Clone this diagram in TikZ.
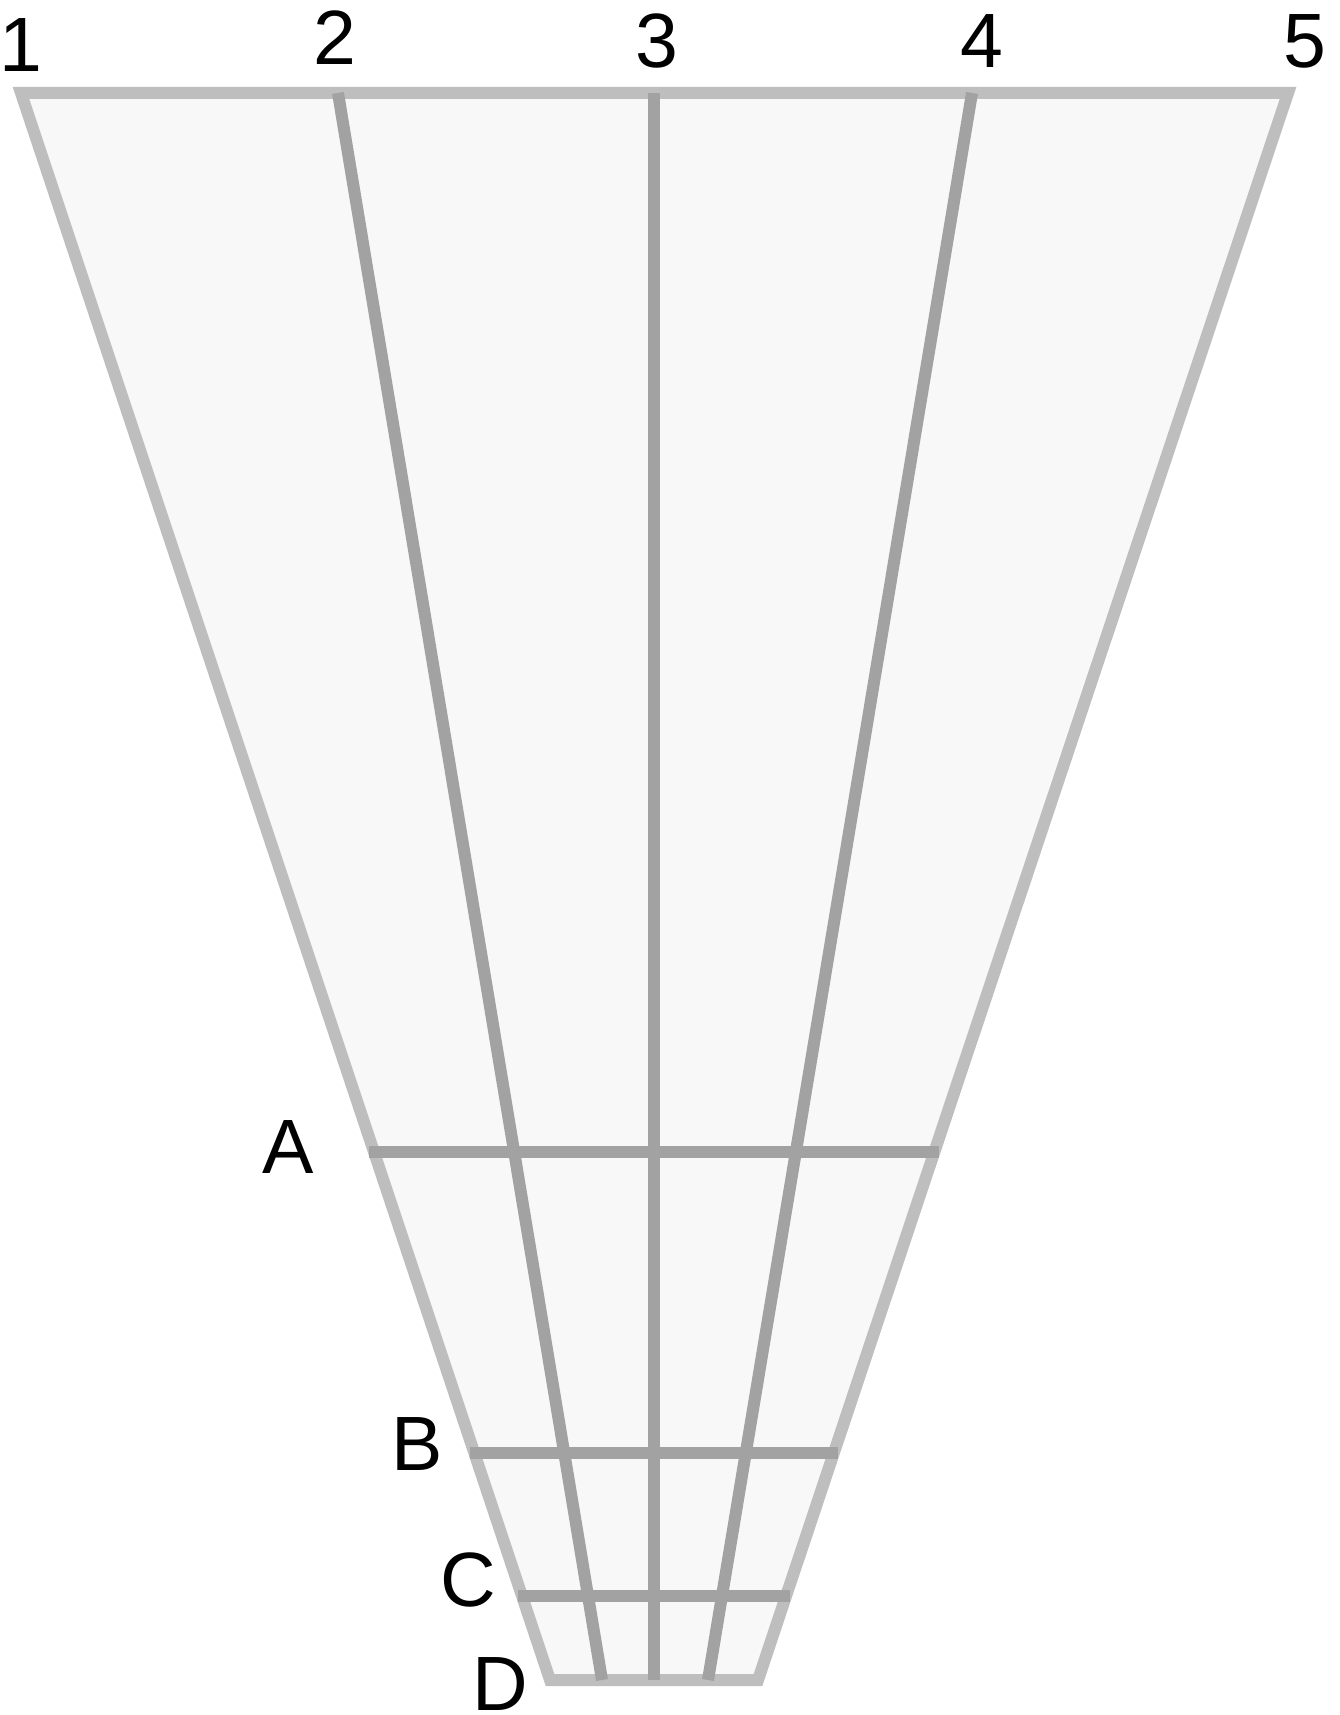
\documentclass[tikz,border=0pt]{standalone}
\usepackage{fontspec}
\setmainfont{Liberation Sans}
\usetikzlibrary{calc}
\definecolor{rimgray}{HTML}{BEBEBE}
\definecolor{ribgray}{HTML}{A2A2A2}
\definecolor{fillgray}{HTML}{F8F8F8}
\tikzset{
  rim/.style={draw=rimgray, line width=12pt, line join=miter},
  rib/.style={draw=ribgray, line width=12pt},
  lab/.style={anchor=base, inner sep=0pt, font=\fontsize{77}{77}\selectfont}
}
\begin{document}
\begin{tikzpicture}[x=1pt,y=-1pt]
\useasboundingbox (0,0) rectangle (1339,1715);
\coordinate (TL) at (21,93);
\coordinate (TR) at (1288,93);
\coordinate (BR) at (758,1680);
\coordinate (BL) at (550,1680);
\coordinate (T2) at (338,93);
\coordinate (B2) at (602,1680);
\coordinate (T3) at (654,93);
\coordinate (B3) at (654,1680);
\coordinate (T4) at (972,93);
\coordinate (B4) at (708,1680);
\coordinate (AL) at ($(TL)!0.6673!(BL)+(-5,0)$);
\coordinate (AR) at ($(TR)!0.6673!(BR)+(5,0)$);
\coordinate (BBL) at ($(TL)!0.857!(BL)+(-4,0)$);
\coordinate (BBR) at ($(TR)!0.857!(BR)+(4,0)$);
\coordinate (CL) at ($(TL)!0.947!(BL)+(-4,0)$);
\coordinate (CR) at ($(TR)!0.947!(BR)+(4,0)$);
\path[rim, fill=fillgray] (TL) -- (TR) -- (BR) -- (BL) -- cycle;
\draw[rib] (T2) -- (B2);
\draw[rib] (T3) -- (B3);
\draw[rib] (T4) -- (B4);
\draw[rib] (AL) -- (AR);
\draw[rib] (BBL) -- (BBR);
\draw[rib] (CL) -- (CR);
\node[lab] (n1) at (21,72) {1};
\node[lab] (n2) at (335,65) {2};
\node[lab] (n3) at (657,68) {3};
\node[lab] (n4) at (982,68) {4};
\node[lab] (n5) at (1305,68) {5};
\node[lab] (nA) at (288,1173) {A};
\node[lab] (nB) at (417,1470) {B};
\node[lab] (nC) at (468,1606) {C};
\node[lab] (nD) at (500,1710) {D};
\end{tikzpicture}
\end{document}
